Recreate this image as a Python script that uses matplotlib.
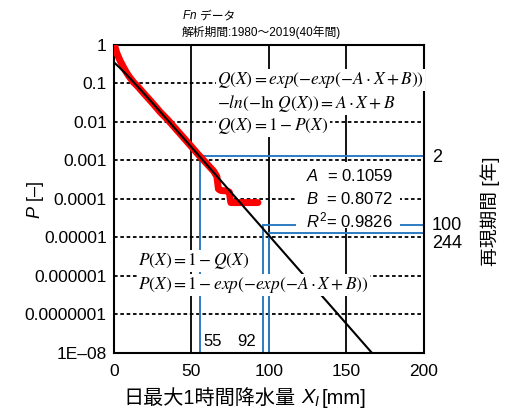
import matplotlib
matplotlib.use('Agg')
import matplotlib.pyplot as plt
from matplotlib.patches import Rectangle
import numpy as np

plt.rcParams['font.family'] = ['Liberation Sans', 'Noto Sans CJK JP']
plt.rcParams['mathtext.fontset'] = 'custom'
plt.rcParams['mathtext.it'] = 'Liberation Sans:italic'
plt.rcParams['mathtext.rm'] = 'Liberation Sans'
plt.rcParams['axes.unicode_minus'] = False

# Gumbel fit parameters
A = 0.1059
B = 0.8072
R2 = 0.9826

# empirical exceedance probability (red)
obs_x = [0.5, 2, 4, 6, 8, 10, 13, 15, 20, 25, 30, 35, 40, 45, 50, 55, 60,
         64.5, 66.5, 67.5, 69, 73, 74.5, 75.5, 80, 85, 93]
obs_p = [1.0, 0.62, 0.40, 0.28, 0.2, 0.15, 0.105, 0.088, 0.052, 0.031, 0.018,
         0.0112, 0.0066, 0.0039, 0.0023, 0.00135, 0.00082, 0.00052, 0.00038,
         0.00018, 0.000165, 0.00016, 0.00015, 0.00008, 0.00008, 0.00008, 0.00008]

# return period markers
rp_years = ['2', '100', '244']
rp_x = [55.5, 96, 100]
rp_p = [1.3e-3, 2.1e-5, 1.28e-5]
rp_xlabels = ['55', '92']

yticks = [1, 0.1, 0.01, 0.001, 0.0001, 0.00001, 0.000001, 0.0000001, 1e-8]
ytick_labels = ['1', '0.1', '0.01', '0.001', '0.0001', '0.00001', '0.000001',
                '0.0000001', '1E–08']
xticks = [0, 50, 100, 150, 200]

W, H = 507, 408
fig = plt.figure(figsize=(W / 100, H / 100), dpi=100)
ax = fig.add_axes([113.7 / W, 1 - 352.7 / H, (424 - 113.7) / W, (352.7 - 45) / H])


def px(x, y):
    return x / W, 1 - y / H


ax.set_yscale('log')
ax.set_xlim(0, 200)
ax.set_ylim(1e-8, 1)
ax.set_yticks(yticks)
ax.set_yticklabels(ytick_labels)
ax.minorticks_off()
ax.set_xticks(xticks)
ax.tick_params(length=0, labelsize=12.5, pad=5)
ax.tick_params(axis='x', pad=8)
for s in ax.spines.values():
    s.set_linewidth(1.5)

for v in [50, 100, 150]:
    ax.axvline(v, color='black', lw=1.3, zorder=1)
for p in yticks[1:-1]:
    ax.axhline(p, color='black', lw=1.3, ls=(0, (2, 1.5)), zorder=1)

# blue return period lines
blue = '#2e7cc3'
for xx, pp in zip(rp_x, rp_p):
    ax.plot([xx, 200], [pp, pp], color=blue, lw=1.4, zorder=2)
    ax.plot([xx, xx], [pp, 1e-8], color=blue, lw=1.4, zorder=2)

ax.plot(obs_x, obs_p, color='red', lw=5, solid_joinstyle='round',
        solid_capstyle='round', zorder=3)

xf = np.linspace(0, 170, 200)
pf = 1 - np.exp(-np.exp(-(A * xf + B)))
ax.plot(xf, pf, color='black', lw=1.5, zorder=4)

# right side labels
for lab, yy in zip(rp_years, [157, 226, 244]):
    fig.text(*px(432, yy), lab, fontsize=13, va='center', ha='left')
fig.text(*px(490, 211), '再現期間 [年]', fontsize=13.5, rotation=90,
         va='center', ha='center')

# bottom x labels for return levels
fig.text(*px(213, 342), rp_xlabels[0], fontsize=12, va='center', ha='center')
fig.text(*px(247, 342), rp_xlabels[1], fontsize=12, va='center', ha='center')

renderer = fig.canvas.get_renderer()


def text_row(x0, y, parts, size, center=False):
    # place text pieces one after another (CJK and math need separate texts)
    arts = []
    x = x0
    for s, gap in parts:
        t = fig.text(x / W, 1 - y / H, s, fontsize=size, va='baseline', ha='left')
        bb = t.get_window_extent(renderer)
        arts.append(t)
        x = x + bb.width + gap
    if center:
        shift = (x - x0) / 2
        for t in arts:
            xx, yy = t.get_position()
            t.set_position((xx - shift / W, yy))
    return arts


# titles and axis labels
text_row(182, 19, [('$Fn$', 3), ('データ', 0)], 8.5)
fig.text(*px(182, 32), '解析期間:1980～2019(40年間)', fontsize=8.5, va='center', ha='left')
text_row(245, 404, [('日最大1時間降水量', 6), ('$X_I$', 1), ('[mm]', 0)], 14.5, center=True)
fig.text(*px(35, 200), '$P$ [–]', fontsize=13, rotation=90, va='center', ha='center')

# formula boxes
box = dict(facecolor='white', edgecolor='none', pad=1)
f1 = [r'$Q(X)=exp\left(-exp(-A\cdot X+B)\right)$',
      r'$-ln(-\ln\,Q(X))=A\cdot X+B$',
      r'$Q(X)=1-P(X)$']
for t, yy in zip(f1, [80, 103, 126]):
    fig.text(*px(217, yy), t, fontsize=12.5, va='center', ha='left',
             math_fontfamily='stix', bbox=box)
f2 = [r'$P(X)=1-Q(X)$',
      r'$P(X)=1-exp\left(-exp(-A\cdot X+B)\right)$']
for t, yy in zip(f2, [261, 285]):
    fig.text(*px(138, yy), t, fontsize=12.5, va='center', ha='left',
             math_fontfamily='stix', bbox=box)

fig.patches.append(Rectangle(px(296, 228), 104 / W, 66 / H, transform=fig.transFigure,
                             facecolor='white', edgecolor='none', zorder=3))
params = ['$A$  = %.4f' % A, '$B$  = %.4f' % B, '$R^2$= %.4f' % R2]
for t, yy in zip(params, [176, 199, 220]):
    fig.text(*px(306, yy), t, fontsize=12, va='center', ha='left', zorder=4)

fig.savefig('out.png', dpi=100)
